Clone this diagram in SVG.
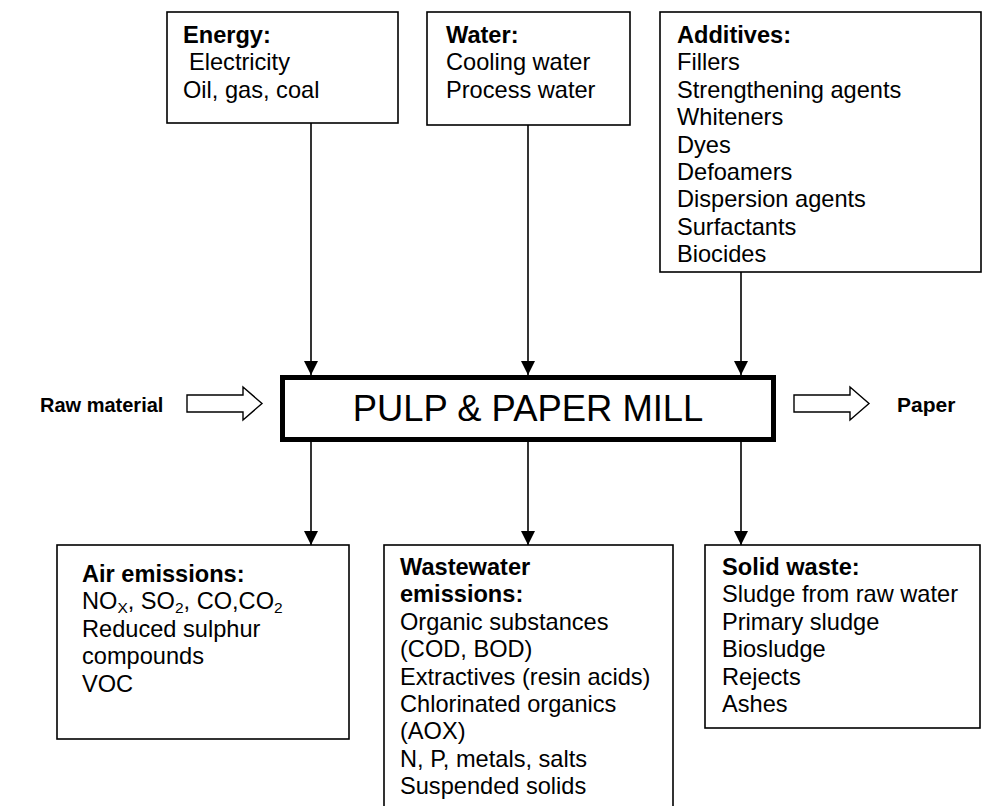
<svg xmlns="http://www.w3.org/2000/svg" width="982" height="806" viewBox="0 0 982 806">
<style>
.box{fill:#fff;stroke:#000;stroke-width:1.6}
.t{font-family:"Liberation Sans",Arial,sans-serif;font-size:23.6px;fill:#000}
.b{font-weight:bold}
.con{stroke:#000;stroke-width:1.6;fill:none}
.hollow{fill:#fff;stroke:#000;stroke-width:1.4}
.sub{font-size:15.5px}
</style>
<defs>
<marker id="ah" markerUnits="userSpaceOnUse" markerWidth="14" markerHeight="15" refX="14" refY="7" orient="auto">
<path d="M0,0 L14,7 L0,14 Z" fill="#000"/>
</marker>
</defs>
<g id="connectors">
<line class="con" x1="311" y1="123" x2="311" y2="375" marker-end="url(#ah)"/>
<line class="con" x1="528" y1="125" x2="528" y2="375" marker-end="url(#ah)"/>
<line class="con" x1="741" y1="272" x2="741" y2="375" marker-end="url(#ah)"/>
<line class="con" x1="311" y1="442" x2="311" y2="545" marker-end="url(#ah)"/>
<line class="con" x1="528" y1="442" x2="528" y2="545" marker-end="url(#ah)"/>
<line class="con" x1="741" y1="442" x2="741" y2="545" marker-end="url(#ah)"/>
<path class="hollow" d="M187,395 L243,395 L243,387 L262,403.5 L243,420 L243,412 L187,412 Z"/>
<path class="hollow" d="M794,395 L850,395 L850,387 L869,403.5 L850,420 L850,412 L794,412 Z"/>
</g>
<g id="energy">
<rect class="box" x="167" y="12" width="231" height="111"/>
<text class="t b" x="183" y="43">Energy:</text>
<text class="t" x="189" y="70">Electricity</text>
<text class="t" x="183" y="97.5">Oil, gas, coal</text>
</g>
<g id="water">
<rect class="box" x="427" y="12" width="203" height="113"/>
<text class="t b" x="446" y="43">Water:</text>
<text class="t" x="446" y="70">Cooling water</text>
<text class="t" x="446" y="97.5">Process water</text>
</g>
<g id="additives">
<rect class="box" x="660" y="12" width="321" height="260"/>
<text class="t b" x="677" y="43">Additives:</text>
<text class="t" x="677" y="70.4">Fillers</text>
<text class="t" x="677" y="97.8">Strengthening agents</text>
<text class="t" x="677" y="125.2">Whiteners</text>
<text class="t" x="677" y="152.6">Dyes</text>
<text class="t" x="677" y="180">Defoamers</text>
<text class="t" x="677" y="207.4">Dispersion agents</text>
<text class="t" x="677" y="234.8">Surfactants</text>
<text class="t" x="677" y="262.2">Biocides</text>
</g>
<g id="mill">
<rect x="282.5" y="377.5" width="491" height="62" fill="#fff" stroke="#000" stroke-width="5"/>
<text class="t" x="528" y="421" text-anchor="middle" style="font-size:36.4px">PULP &amp; PAPER MILL</text>
</g>
<g id="raw-material">
<text class="t b" x="40" y="412" style="font-size:20px">Raw material</text>
</g>
<g id="paper">
<text class="t b" x="897" y="412" style="font-size:21px">Paper</text>
</g>
<g id="air">
<rect class="box" x="57" y="545" width="292" height="194"/>
<text class="t b" x="82" y="582">Air emissions:</text>
<text class="t" x="82" y="609.4">NO<tspan class="sub" dy="4">X</tspan><tspan dy="-4">, SO</tspan><tspan class="sub" dy="4">2</tspan><tspan dy="-4">, CO,CO</tspan><tspan class="sub" dy="4">2</tspan></text>
<text class="t" x="82" y="636.8">Reduced sulphur</text>
<text class="t" x="82" y="664.2">compounds</text>
<text class="t" x="82" y="691.6">VOC</text>
</g>
<g id="wastewater">
<rect class="box" x="384" y="545" width="289" height="300"/>
<text class="t b" x="400" y="575">Wastewater</text>
<text class="t b" x="400" y="602.4">emissions:</text>
<text class="t" x="400" y="629.8">Organic substances</text>
<text class="t" x="400" y="657.2">(COD, BOD)</text>
<text class="t" x="400" y="684.6">Extractives (resin acids)</text>
<text class="t" x="400" y="712">Chlorinated organics</text>
<text class="t" x="400" y="739.4">(AOX)</text>
<text class="t" x="400" y="766.8">N, P, metals, salts</text>
<text class="t" x="400" y="794.2">Suspended solids</text>
</g>
<g id="solid">
<rect class="box" x="705" y="545" width="275" height="183"/>
<text class="t b" x="722" y="575">Solid waste:</text>
<text class="t" x="722" y="602.4">Sludge from raw water</text>
<text class="t" x="722" y="629.8">Primary sludge</text>
<text class="t" x="722" y="657.2">Biosludge</text>
<text class="t" x="722" y="684.6">Rejects</text>
<text class="t" x="722" y="712">Ashes</text>
</g>
</svg>
